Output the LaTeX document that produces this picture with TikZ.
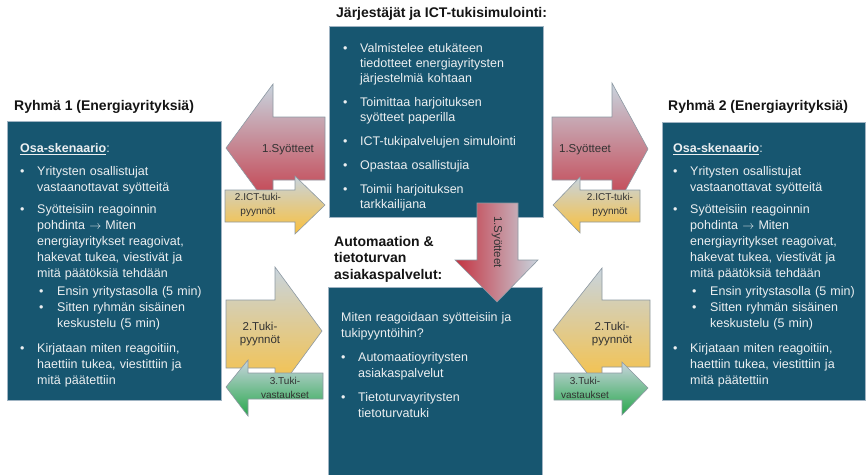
\documentclass[tikz,border=0pt]{standalone}
\usepackage{fontspec}
\setmainfont{Liberation Sans}
\usepackage{enumitem}
\usetikzlibrary{positioning}
\definecolor{panelblue}{RGB}{23,86,112}
\definecolor{panelrim}{RGB}{160,180,195}
\definecolor{paneltxt}{RGB}{236,239,241}
\definecolor{headtxt}{RGB}{20,20,20}
\definecolor{arrowgrey}{RGB}{200,212,222}
\definecolor{arrowred}{RGB}{196,50,64}
\definecolor{arrowgold}{RGB}{250,192,60}
\definecolor{arrowgreen}{RGB}{40,168,76}
\definecolor{arrowrim}{RGB}{140,152,162}
\definecolor{labeltxt}{RGB}{50,50,50}
\setlist[itemize]{label=\textbullet, align=left, labelindent=0pt, labelwidth=5pt,
  labelsep=12pt, leftmargin=17pt, topsep=0pt, partopsep=0pt, parsep=0pt, itemsep=6pt}
\setlist[itemize,2]{labelindent=2pt, labelsep=13pt, leftmargin=20pt, topsep=2pt, itemsep=0pt}
\newcommand{\thento}{$\rightarrow$}

\begin{document}
\begin{tikzpicture}[x=1pt,y=-1pt,
    panel/.style={draw=panelrim, fill=panelblue, line width=0.8pt, anchor=north west, inner sep=0pt},
    paneltext/.style={anchor=north west, inner sep=0pt, text=paneltxt, align=left,
      font=\fontsize{12.5}{16}\selectfont},
    heading/.style={inner sep=0pt, text=headtxt, align=left, font=\fontsize{14}{16.5}\selectfont\bfseries},
    redarrow/.style={draw=arrowrim, line width=0.6pt, top color=arrowgrey, bottom color=arrowred},
    goldarrow/.style={draw=arrowrim, line width=0.6pt, top color=arrowgrey, bottom color=arrowgold},
    greenarrow/.style={draw=arrowrim, line width=0.6pt, top color=arrowgrey, bottom color=arrowgreen},
    biglabel/.style={inner sep=0pt, text=labeltxt, align=center, font=\fontsize{11.5}{13}\selectfont},
    smalllabel/.style={inner sep=0pt, text=labeltxt, align=center, font=\fontsize{10}{13.5}\selectfont}]
\useasboundingbox (0,0) rectangle (866,474);

% panels
\node[panel, minimum width=214pt, minimum height=279pt] (grp1) at (7,121) {};
\node[panel, minimum width=203pt, minimum height=278pt] (grp2) at (662,122) {};
\node[panel, minimum width=214pt, minimum height=191pt] (orgs) at (329,26) {};
\node[panel, minimum width=214pt, minimum height=195pt] (help) at (328,287) {};

% headings
\node[heading, anchor=west] (grp1title) at (14,107) {Ryhmä 1 (Energiayrityksiä)};
\node[heading, anchor=west] (grp2title) at (668,107) {Ryhmä 2 (Energiayrityksiä)};
\node[heading, anchor=west] (orgstitle) at (336,14) {Järjestäjät ja ICT-tukisimulointi:};
\node[heading, anchor=north west] (helptitle) at (334,236) {Automaation \&\\tietoturvan\\asiakaspalvelut:};

% panel texts
\node[paneltext, text width=200pt] (grp1text) at (20,143) {%
  \underline{\textbf{Osa-skenaario}}:
  \begin{itemize}[topsep=7pt]
  \item Yritysten osallistujat\\vastaanottavat syötteitä
  \item Syötteisiin reagoinnin\\pohdinta \thento{} Miten\\energiayritykset reagoivat,\\hakevat tukea, viestivät ja\\mitä päätöksiä tehdään
    \begin{itemize}[after=\vspace{3pt}]
    \item Ensin yritystasolla (5 min)
    \item Sitten ryhmän sisäinen\\keskustelu (5 min)
    \end{itemize}
  \item Kirjataan miten reagoitiin,\\haettiin tukea, viestittiin ja\\mitä päätettiin
  \end{itemize}};
\node[paneltext, text width=190pt] (grp2text) at (673,143) {%
  \underline{\textbf{Osa-skenaario}}:
  \begin{itemize}[topsep=7pt]
  \item Yritysten osallistujat\\vastaanottavat syötteitä
  \item Syötteisiin reagoinnin\\pohdinta \thento{} Miten\\energiayritykset reagoivat,\\hakevat tukea, viestivät ja\\mitä päätöksiä tehdään
    \begin{itemize}[after=\vspace{3pt}]
    \item Ensin yritystasolla (5 min)
    \item Sitten ryhmän sisäinen\\keskustelu (5 min)
    \end{itemize}
  \item Kirjataan miten reagoitiin,\\haettiin tukea, viestittiin ja\\mitä päätettiin
  \end{itemize}};
\node[paneltext, text width=195pt, font=\fontsize{12.5}{15}\selectfont] (orgstext) at (343,37) {%
  \begin{itemize}[itemsep=9pt]
  \item Valmistelee etukäteen\\tiedotteet energiayritysten\\järjestelmiä kohtaan
  \item Toimittaa harjoituksen\\syötteet paperilla
  \item ICT-tukipalvelujen simulointi
  \item Opastaa osallistujia
  \item Toimii harjoituksen\\tarkkailijana
  \end{itemize}};
\node[paneltext, text width=195pt] (helptext) at (341,312) {%
  Miten reagoidaan syötteisiin ja\\tukipyyntöihin?
  \begin{itemize}[topsep=8pt, itemsep=8pt]
  \item Automaatioyritysten\\asiakaspalvelut
  \item Tietoturvayritysten\\tietoturvatuki
  \end{itemize}};

% left arrows
\path[redarrow] (226,148) -- (273,84) -- (273,117) -- (325,117) -- (325,180)
  -- (273,180) -- (273,212) -- cycle;
\path[goldarrow] (225,190) -- (295,190) -- (295,176) -- (325,205) -- (295,234)
  -- (295,222) -- (225,222) -- cycle;
\path[goldarrow] (226,300) -- (275,300) -- (275,267) -- (322,331) -- (275,395)
  -- (275,368) -- (226,368) -- cycle;
\path[greenarrow] (226,387) -- (248,360) -- (248,373) -- (323,373) -- (323,399)
  -- (248,399) -- (248,416) -- cycle;

% right arrows
\path[redarrow] (552,117) -- (612,117) -- (612,83) -- (648,149) -- (612,215)
  -- (612,180) -- (552,180) -- cycle;
\path[goldarrow] (553,205) -- (580,177) -- (580,190) -- (640,190) -- (640,222)
  -- (580,222) -- (580,233) -- cycle;
\path[goldarrow] (553,330) -- (602,268) -- (602,300) -- (650,300) -- (650,367)
  -- (602,367) -- (602,392) -- cycle;
\path[greenarrow] (554,373) -- (622,373) -- (622,362) -- (648,388) -- (622,415)
  -- (622,400) -- (554,400) -- cycle;

% down arrow
\path[draw=arrowrim, line width=0.6pt, left color=arrowred, right color=arrowgrey]
  (477,203) -- (518,203) -- (518,260) -- (538,260) -- (497,302) -- (455,260)
  -- (477,260) -- cycle;

% arrow labels
\node[biglabel] (feed1) at (288,150) {1.Syötteet};
\node[smalllabel] (ask1) at (258,205) {2.ICT-tuki-\\pyynnöt};
\node[biglabel] (req1) at (260,334) {2.Tuki-\\pyynnöt};
\node[smalllabel] (ans1) at (285,388) {3.Tuki-\\vastaukset};
\node[biglabel] (feed2) at (585,150) {1.Syötteet};
\node[smalllabel] (ask2) at (610,205) {2.ICT-tuki-\\pyynnöt};
\node[biglabel] (req2) at (612,334) {2.Tuki-\\pyynnöt};
\node[smalllabel] (ans2) at (585,388) {3.Tuki-\\vastaukset};
\node[biglabel, rotate=-90] (feed3) at (497,242) {1.Syötteet};
\end{tikzpicture}
\end{document}
